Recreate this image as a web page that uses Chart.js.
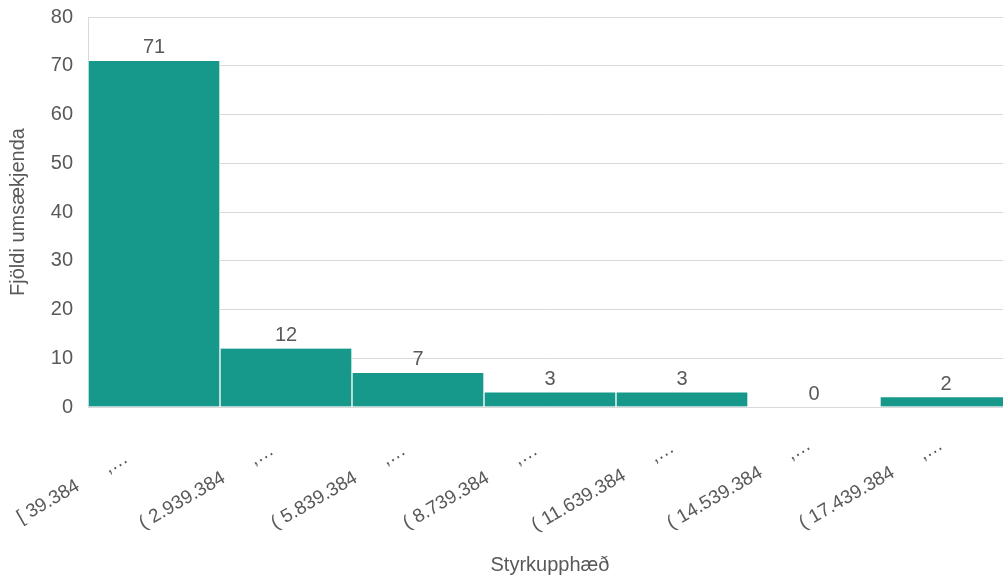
<!DOCTYPE html>
<html>
<head>
<meta charset="utf-8">
<script src="https://cdn.jsdelivr.net/npm/chart.js@4"></script>
<style>
  html, body { margin: 0; padding: 0; background: #fff; overflow: hidden; }
  #clip { width: 1003px; height: 581px; overflow: hidden; }
  #wrap { width: 1012px; height: 581px; }
</style>
</head>
<body>
<div id="clip"><div id="wrap"><canvas id="hist-chart"></canvas></div></div>
<script>
// Data
const binLabels = [
    '[ 39.384      ,\u2026      ',
    '( 2.939.384      ,\u2026   ',
    '( 5.839.384      ,\u2026   ',
    '( 8.739.384      ,\u2026   ',
    '( 11.639.384      ,\u2026  ',
    '( 14.539.384      ,\u2026 ',
    '( 17.439.384      ,\u2026 '
];
const applicantCounts = [71, 12, 7, 3, 3, 0, 2];
const yTicks = [0, 10, 20, 30, 40, 50, 60, 70, 80];

const textColor = '#595959';
const fontFamily = '"Liberation Sans", Arial, sans-serif';

// Draw value labels above each bar
const valueLabels = {
    id: 'valueLabels',
    afterDatasetsDraw(chart) {
        const ctx = chart.ctx;
        const meta = chart.getDatasetMeta(0);
        ctx.save();
        ctx.fillStyle = textColor;
        ctx.font = '20px ' + fontFamily;
        ctx.textAlign = 'center';
        ctx.textBaseline = 'bottom';
        meta.data.forEach((bar, i) => {
            ctx.fillText(String(applicantCounts[i]), bar.x, bar.y - 3);
        });
        ctx.restore();
    }
};

const ctx = document.getElementById('hist-chart').getContext('2d');
new Chart(ctx, {
    type: 'bar',
    data: {
        labels: binLabels,
        datasets: [{
            data: applicantCounts,
            backgroundColor: '#16998a',
            borderColor: '#ffffff',
            borderWidth: { left: 1, right: 1, top: 0, bottom: 0 },
            borderSkipped: false,
            barPercentage: 1,
            categoryPercentage: 1
        }]
    },
    options: {
        responsive: true,
        maintainAspectRatio: false,
        animation: false,
        devicePixelRatio: 1,
        layout: { padding: { top: 17, right: 0, left: 6, bottom: 0 } },
        plugins: {
            legend: { display: false },
            tooltip: { enabled: false }
        },
        scales: {
            x: {
                grid: { display: false, drawTicks: false },
                border: { display: true, color: '#d9d9d9' },
                ticks: {
                    color: textColor,
                    font: { family: fontFamily, size: 19 },
                    minRotation: 30,
                    maxRotation: 30,
                    autoSkip: false,
                    padding: 24
                },
                title: {
                    display: true,
                    text: 'Styrkupphæð',
                    color: textColor,
                    font: { family: fontFamily, size: 20 },
                    padding: { top: 0, bottom: 4 }
                },
                afterFit(scale) {
                    scale.height = 174;
                    scale.paddingLeft = 0;
                    scale.paddingRight = 0;
                }
            },
            y: {
                min: 0,
                max: 80,
                afterBuildTicks(scale) { scale.ticks = yTicks.map(v => ({ value: v })); },
                grid: { color: '#d9d9d9', drawTicks: false },
                border: { display: true, color: '#d9d9d9' },
                ticks: {
                    color: textColor,
                    font: { family: fontFamily, size: 20 },
                    padding: 15
                },
                title: {
                    display: true,
                    text: 'Fjöldi umsækjenda',
                    color: textColor,
                    font: { family: fontFamily, size: 20 },
                    padding: { top: 0, bottom: 0 }
                },
                afterFit(scale) {
                    scale.width = 82;
                    scale.paddingTop = 0;
                    scale.paddingBottom = 0;
                }
            }
        }
    },
    plugins: [valueLabels]
});
</script>
</body>
</html>
